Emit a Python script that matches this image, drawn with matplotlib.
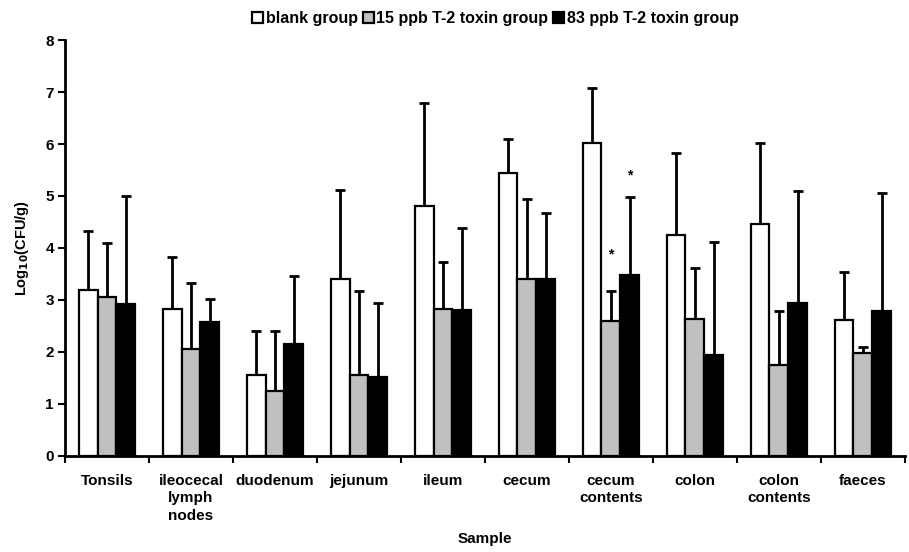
import numpy as np
import matplotlib.pyplot as plt
from matplotlib.patches import Patch

plt.rcParams['font.family'] = ['Liberation Sans', 'DejaVu Sans']
plt.rcParams['font.weight'] = 'bold'

samples = ['Tonsils', 'ileocecal\nlymph\nnodes', 'duodenum', 'jejunum', 'ileum',
           'cecum', 'cecum\ncontents', 'colon', 'colon\ncontents', 'faeces']
groups = ['blank group', '15 ppb T-2 toxin group', '83 ppb T-2 toxin group']
colors = ['white', '#c0c0c0', 'black']

# mean log10(CFU/g) per group
blank = [3.20, 2.82, 1.55, 3.40, 4.80, 5.44, 6.02, 4.25, 4.46, 2.62]
low_dose = [3.05, 2.05, 1.25, 1.55, 2.82, 3.40, 2.60, 2.64, 1.75, 1.98]
high_dose = [2.92, 2.57, 2.16, 1.52, 2.80, 3.40, 3.48, 1.94, 2.95, 2.78]

# upper end of the error bars
blank_top = [4.33, 3.82, 2.40, 5.12, 6.78, 6.10, 7.07, 5.83, 6.02, 3.53]
low_top = [4.10, 3.32, 2.40, 3.17, 3.74, 4.95, 3.17, 3.61, 2.78, 2.10]
high_top = [5.00, 3.02, 3.46, 2.94, 4.38, 4.67, 4.98, 4.12, 5.10, 5.06]

# significance marks: (sample index, group index, y)
stars = [(6, 1, 3.87), (6, 2, 5.40)]

means = [blank, low_dose, high_dose]
tops = [blank_top, low_top, high_top]

fig = plt.figure(figsize=(9.09, 5.52), dpi=100)
ax = fig.add_axes([0.0715, 0.174, 0.924, 0.7535])

x = np.arange(len(samples))
w = 0.225
for i in range(3):
    pos = x + (i - 1) * w
    m = np.array(means[i])
    err = np.array(tops[i]) - m
    ax.bar(pos, m, w, color=colors[i], edgecolor='black', linewidth=1.6, zorder=2)
    ax.errorbar(pos, m, yerr=[np.zeros_like(m), err], fmt='none', ecolor='black',
                elinewidth=2, capsize=3.5, capthick=2, zorder=1)

for si, gi, y in stars:
    ax.text(x[si] + (gi - 1) * w, y, '*', ha='center', va='center', fontsize=10)

ax.set_xlim(-0.5, len(samples) - 0.5)
ax.set_ylim(0, 8)
ax.set_yticks(range(9))
ax.set_xticks(x)
ax.set_xticklabels(samples, fontsize=11, fontweight='bold', va='top', linespacing=1.3)
ax.tick_params(axis='x', length=0, pad=13)
ax.set_xticks(np.arange(len(samples) + 1) - 0.5, minor=True)
ax.tick_params(axis='x', which='minor', length=5, width=1.5, direction='out')
ax.tick_params(axis='y', length=5, width=1.5, labelsize=11, pad=3)
for lbl in ax.get_yticklabels():
    lbl.set_fontweight('bold')

ax.spines['top'].set_visible(False)
ax.spines['right'].set_visible(False)
ax.spines['left'].set_linewidth(2)
ax.spines['bottom'].set_linewidth(2)

ax.set_ylabel('Log$_{\\mathbf{10}}$(CFU/g)', fontsize=10.5, fontweight='bold', labelpad=10)
ax.set_xlabel('Sample', fontsize=11, fontweight='bold', labelpad=7)

handles = [Patch(facecolor=c, edgecolor='black', linewidth=1.6) for c in colors]
fig.legend(handles, groups, loc='center', bbox_to_anchor=(0.545, 0.967), ncol=3,
           frameon=False, handlelength=0.7, handleheight=0.7,
           handletextpad=0.15, columnspacing=0.3, prop={'weight': 'bold', 'size': 11.5})

fig.savefig('out.png', dpi=100)
